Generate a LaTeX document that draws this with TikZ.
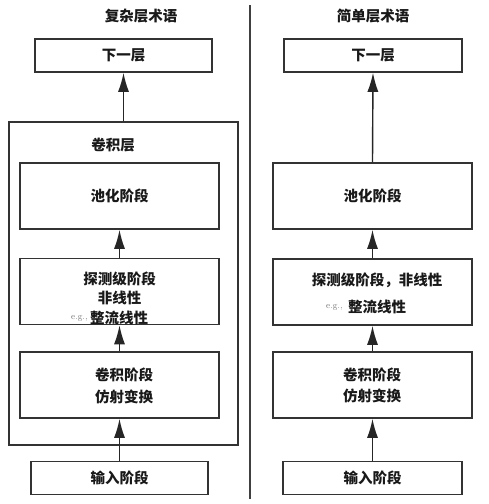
\documentclass[tikz,border=0pt]{standalone}
\usepackage{fontspec}
\newfontfamily\cjk{Noto Sans CJK SC}
\usetikzlibrary{arrows.meta,shapes,positioning}
\tikzset{arrow/.style={-{Latex[length=19pt,width=11pt]},line width=1.4pt,draw=black!85,fill=black!85}}
\tikzstyle{stagebox}=[draw=black!80,line width=1.6pt,minimum width=199pt,minimum height=66pt,inner sep=0pt,align=center]
\tikzstyle{smallbox}=[draw=black!80,line width=1.6pt,minimum height=33pt,inner sep=0pt]
\tikzstyle{lbl}=[font=\cjk\bfseries\fontsize{14.5}{21}\selectfont,text=black!90,inner sep=0pt]
\tikzstyle{eg}=[font=\fontsize{9}{10}\selectfont,text=black!55,inner sep=0pt]

\begin{document}
\begin{tikzpicture}[x=1pt,y=-1pt,lbl]
	\useasboundingbox (0,0) rectangle (488,504);
	\fill[white] (0,0) rectangle (488,504);

	%divider
	\draw[line width=1.2pt,black!75] (250,5) -- (250,499);

	%complex terminology
	\node (title1) at (141,16) {复杂层术语};
	\node[smallbox,minimum width=177pt] (next1) at (123.5,55.5) {下一层};
	\node[draw=black!80,line width=1.6pt,minimum width=229pt,minimum height=323pt] (layer1) at (123.5,283.5) {};
	\node (layername1) at (113,145) {卷积层};
	\node[stagebox] (pool1) at (119.5,196) {池化阶段};
	\node[stagebox] (detect1) at (119.5,291.5) {};
		\node (d1a) at (119.5,279) {探测级阶段};
		\node (d1b) at (119.5,298) {非线性};
		\node (d1c) at (119,318) {整流线性};
		\node[eg,left=2pt of d1c.west] (eg1) {e.g.,};
	\node[stagebox] (conv1) at (119.5,385) {};
		\node (c1a) at (124,375) {卷积阶段};
		\node (c1b) at (124,397) {仿射变换};
	\node[smallbox,minimum width=177pt] (input1) at (119.5,478) {输入阶段};

	\draw[arrow] (layer1.north) -- (next1.south);
	\draw[arrow] (detect1.north) -- (pool1.south);
	\draw[arrow] (conv1.north) -- (detect1.south);
	\draw[arrow] (input1.north) -- (conv1.south);

	%simple terminology
	\node (title2) at (373,16) {简单层术语};
	\node[smallbox,minimum width=178pt] (next2) at (373,55.5) {下一层};
	\node[stagebox] (pool2) at (372.5,196) {池化阶段};
	\node[stagebox] (detect2) at (372.5,292) {};
		\node (d2a) at (377,280) {探测级阶段，非线性};
		\node (d2c) at (377,307) {整流线性};
		\node[eg,left=5pt of d2c.west] (eg2) {e.g.,};
	\node[stagebox] (conv2) at (372.5,385) {};
		\node (c2a) at (372,375) {卷积阶段};
		\node (c2b) at (372,396) {仿射变换};
	\node[smallbox,minimum width=179pt] (input2) at (372.5,478) {输入阶段};

	\draw[arrow] (pool2.north) -- (next2.south);
	\draw[arrow] (detect2.north) -- (pool2.south);
	\draw[arrow] (conv2.north) -- (detect2.south);
	\draw[arrow] (input2.north) -- (conv2.south);
\end{tikzpicture}
\end{document}
